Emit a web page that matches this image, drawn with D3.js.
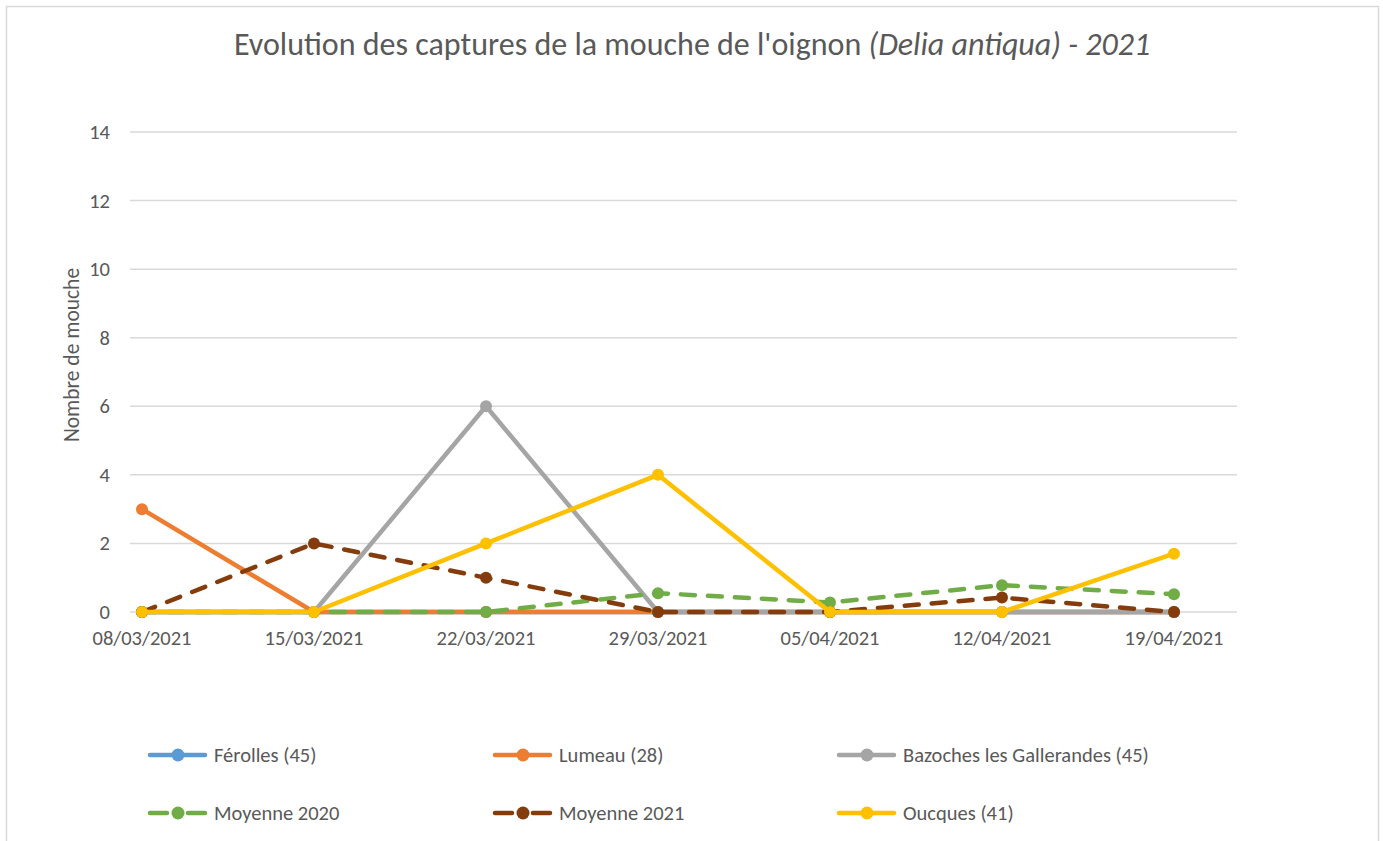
<!DOCTYPE html>
<html>
<head>
<meta charset="utf-8">
<script src="https://cdn.jsdelivr.net/npm/d3@7"></script>
<style>
  html, body { margin: 0; padding: 0; background: #fff; }
  svg text { font-family: Carlito, Lato, "Open Sans", "Noto Sans", sans-serif; fill: #595959; }
</style>
</head>
<body>
<div id="chart"></div>
<script>
// ── Data ────────────────────────────────────────────────────
const dates = ['08/03/2021', '15/03/2021', '22/03/2021', '29/03/2021', '05/04/2021', '12/04/2021', '19/04/2021'];
const yTicks = [0, 2, 4, 6, 8, 10, 12, 14];

const ferolles    = [0, 0, 0, 0, 0, 0, 0];
const lumeau      = [3, 0, 0, 0, 0, 0, 0];
const bazoches    = [0, 0, 6, 0, 0, 0, 0];
const moyenne2020 = [0, 0, 0, 0.55, 0.28, 0.78, 0.52];
const moyenne2021 = [0, 2, 1, 0, 0, 0.42, 0];
const oucques     = [0, 0, 2, 4, 0, 0, 1.7];

const series = [
  { name: 'Férolles (45)', values: ferolles, color: '#5B9BD5', dashed: false },
  { name: 'Lumeau (28)', values: lumeau, color: '#ED7D31', dashed: false },
  { name: 'Bazoches les Gallerandes (45)', values: bazoches, color: '#A5A5A5', dashed: false },
  { name: 'Moyenne 2020', values: moyenne2020, color: '#70AD47', dashed: true },
  { name: 'Moyenne 2021', values: moyenne2021, color: '#843C0C', dashed: true },
  { name: 'Oucques (41)', values: oucques, color: '#FFC000', dashed: false },
];

// ── Layout ──────────────────────────────────────────────────
const W = 1383, H = 841;
const plot = { left: 130, right: 1237, top: 132, bottom: 612 };

const svg = d3.select('#chart').append('svg')
  .attr('width', W).attr('height', H);

// chart frame
svg.append('rect')
  .attr('x', 6.5).attr('y', 6.5)
  .attr('width', 1372).attr('height', 850)
  .attr('fill', '#fff')
  .attr('stroke', '#d9d9d9').attr('stroke-width', 1.5);

const x = d3.scalePoint().domain(dates).range([142, 1174]);
const y = d3.scaleLinear().domain([0, 14]).range([plot.bottom, plot.top]);

// gridlines
svg.append('g')
  .selectAll('line')
  .data(yTicks)
  .join('line')
  .attr('x1', plot.left).attr('x2', plot.right)
  .attr('y1', d => y(d)).attr('y2', d => y(d))
  .attr('stroke', '#d9d9d9').attr('stroke-width', 1.5);

// y tick labels
svg.append('g')
  .selectAll('text')
  .data(yTicks)
  .join('text')
  .attr('x', 110).attr('y', d => y(d))
  .attr('text-anchor', 'end')
  .attr('dominant-baseline', 'central')
  .style('font-size', '20.5px')
  .text(d => d);

// x tick labels
svg.append('g')
  .selectAll('text')
  .data(dates)
  .join('text')
  .attr('x', d => x(d)).attr('y', 638)
  .attr('text-anchor', 'middle')
  .attr('dominant-baseline', 'central')
  .style('font-size', '20.5px')
  .text(d => d);

// y axis title
svg.append('text')
  .attr('transform', 'translate(72,355) rotate(-90)')
  .attr('text-anchor', 'middle')
  .attr('dominant-baseline', 'central')
  .style('font-size', '21.5px')
  .text('Nombre de mouche');

// title
const title = svg.append('text')
  .attr('x', 692).attr('y', 55)
  .attr('text-anchor', 'middle')
  .style('font-size', '32px');
title.append('tspan').text("Evolution des captures de la mouche de l'oignon ");
title.append('tspan').style('font-style', 'italic').text('(Delia antiqua) - 2021');

// ── Series ──────────────────────────────────────────────────
const line = d3.line()
  .x((d, i) => x(dates[i]))
  .y(d => y(d));

const gs = svg.append('g')
  .selectAll('g.series')
  .data(series)
  .join('g')
  .attr('class', 'series');

gs.append('path')
  .attr('d', d => line(d.values))
  .attr('fill', 'none')
  .attr('stroke', d => d.color)
  .attr('stroke-width', 4.5)
  .attr('stroke-linejoin', 'round')
  .attr('stroke-linecap', 'round')
  .attr('stroke-dasharray', d => d.dashed ? '14,13' : null);

gs.selectAll('circle')
  .data(d => d.values.map((v, i) => ({ v, i, color: d.color })))
  .join('circle')
  .attr('cx', d => x(dates[d.i]))
  .attr('cy', d => y(d.v))
  .attr('r', 6)
  .attr('fill', d => d.color);

// ── Legend ──────────────────────────────────────────────────
const legendCols = [148, 493, 837];
const legendRows = [755, 813];

const lg = svg.append('g')
  .selectAll('g.legend')
  .data(series)
  .join('g')
  .attr('class', 'legend')
  .attr('transform', (d, i) => `translate(${legendCols[i % 3]},${legendRows[Math.floor(i / 3)]})`);

lg.append('line')
  .attr('x1', 2).attr('x2', 57)
  .attr('y1', 0).attr('y2', 0)
  .attr('stroke', d => d.color)
  .attr('stroke-width', 4.5)
  .attr('stroke-linecap', 'round')
  .attr('stroke-dasharray', d => d.dashed ? '17,21' : null);

lg.append('circle')
  .attr('cx', 30).attr('cy', 0).attr('r', 6.5)
  .attr('fill', d => d.color);

lg.append('text')
  .attr('x', 66).attr('y', 0)
  .attr('dominant-baseline', 'central')
  .style('font-size', '20.5px')
  .text(d => d.name);
</script>
</body>
</html>
